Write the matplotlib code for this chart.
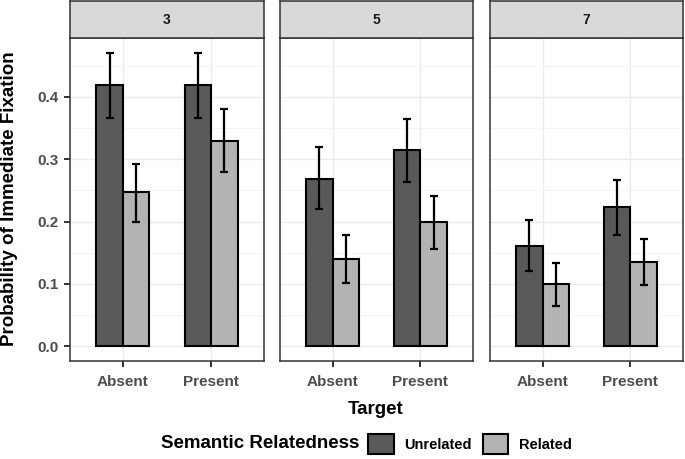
import matplotlib
matplotlib.use("Agg")
import matplotlib.pyplot as plt
import numpy as np
from matplotlib.patches import Patch

plt.rcParams['font.family'] = ['Liberation Sans', 'DejaVu Sans']
plt.rcParams['font.weight'] = 'bold'

# data
set_sizes = ['3', '5', '7']
targets = ['Absent', 'Present']
unrelated = [[0.419, 0.419], [0.269, 0.315], [0.161, 0.223]]
unrelated_lo = [[0.366, 0.366], [0.220, 0.264], [0.120, 0.178]]
unrelated_hi = [[0.471, 0.471], [0.319, 0.364], [0.202, 0.267]]
related = [[0.247, 0.329], [0.140, 0.199], [0.100, 0.135]]
related_lo = [[0.200, 0.279], [0.101, 0.156], [0.065, 0.098]]
related_hi = [[0.292, 0.381], [0.178, 0.241], [0.133, 0.172]]

W, H = 685, 459
fig = plt.figure(figsize=(W / 100, H / 100), dpi=100)

col_unrel = '#595959'
col_rel = '#B3B3B3'
dark = '#333333'
panel_x = [(70, 264), (280, 473), (490, 683)]
top, bottom, strip_top = 38, 361, 1

x = np.arange(1, len(targets) + 1)
bw = 0.3
ymin, ymax = -0.0236, 0.4946

for i, (x0, x1) in enumerate(panel_x):
    ax = fig.add_axes([x0 / W, 1 - bottom / H, (x1 - x0) / W, (bottom - top) / H])
    ax.set_xlim(0.4, 2.6)
    ax.set_ylim(ymin, ymax)
    ax.set_yticks(np.arange(0, 0.41, 0.1))
    ax.set_yticks(np.arange(0.05, 0.46, 0.1), minor=True)
    ax.set_xticks(x)
    ax.set_xticklabels(targets)
    ax.grid(which='major', color='#EBEBEB', linewidth=1.0)
    ax.grid(which='minor', axis='y', color='#F3F3F3', linewidth=0.6)
    ax.set_axisbelow(True)
    ax.bar(x - bw / 2, unrelated[i], width=bw, color=col_unrel, edgecolor='black', linewidth=1.5, zorder=2)
    ax.bar(x + bw / 2, related[i], width=bw, color=col_rel, edgecolor='black', linewidth=1.5, zorder=2)
    u = np.array(unrelated[i]); r = np.array(related[i])
    ax.errorbar(x - bw / 2, u, yerr=[u - np.array(unrelated_lo[i]), np.array(unrelated_hi[i]) - u],
                fmt='none', ecolor='black', elinewidth=1.6, capsize=2.8, capthick=1.6, zorder=3)
    ax.errorbar(x + bw / 2, r, yerr=[r - np.array(related_lo[i]), np.array(related_hi[i]) - r],
                fmt='none', ecolor='black', elinewidth=1.6, capsize=2.8, capthick=1.6, zorder=3)
    for s in ax.spines.values():
        s.set_color(dark)
        s.set_linewidth(1.1)
    ax.tick_params(which='major', direction='out', length=4, width=1.4, color=dark,
                   labelcolor='#4D4D4D', labelsize=11, pad=4)
    ax.tick_params(axis='x', pad=6)
    ax.tick_params(which='minor', length=0)
    for lab in ax.get_xticklabels() + ax.get_yticklabels():
        lab.set_fontweight('bold')
    if i > 0:
        ax.tick_params(axis='y', which='both', left=False, labelleft=False)
    # facet strip
    sax = fig.add_axes([x0 / W, 1 - top / H, (x1 - x0) / W, (top - strip_top) / H])
    sax.set_facecolor('#D9D9D9')
    sax.set_xticks([]); sax.set_yticks([])
    for s in sax.spines.values():
        s.set_color(dark)
        s.set_linewidth(1.1)
    sax.text(0.5, 0.5, set_sizes[i], ha='center', va='center', fontsize=10,
             fontweight='bold', color='#1A1A1A', transform=sax.transAxes)

fig.text(10 / W, 1 - 199 / H, 'Probability of Immediate Fixation', rotation=90, ha='center', va='center',
         fontsize=13.5, fontweight='bold')
fig.text(376 / W, 1 - 410 / H, 'Target', ha='center', va='center', fontsize=13.5, fontweight='bold')
fig.text(161 / W, 1 - 444 / H, 'Semantic Relatedness', ha='left', va='center', fontsize=13.5, fontweight='bold')
handles = [Patch(facecolor=col_unrel, edgecolor='black', linewidth=1.5, label='Unrelated'),
           Patch(facecolor=col_rel, edgecolor='black', linewidth=1.5, label='Related')]
fig.legend(handles=handles, loc='center left', bbox_to_anchor=(368 / W, 1 - 444 / H), ncol=2,
           frameon=False, fontsize=10.5, handlelength=1.75, handleheight=1.65, handletextpad=0.75,
           columnspacing=0.75, borderpad=0, borderaxespad=0)

fig.savefig('out.png', dpi=100)
